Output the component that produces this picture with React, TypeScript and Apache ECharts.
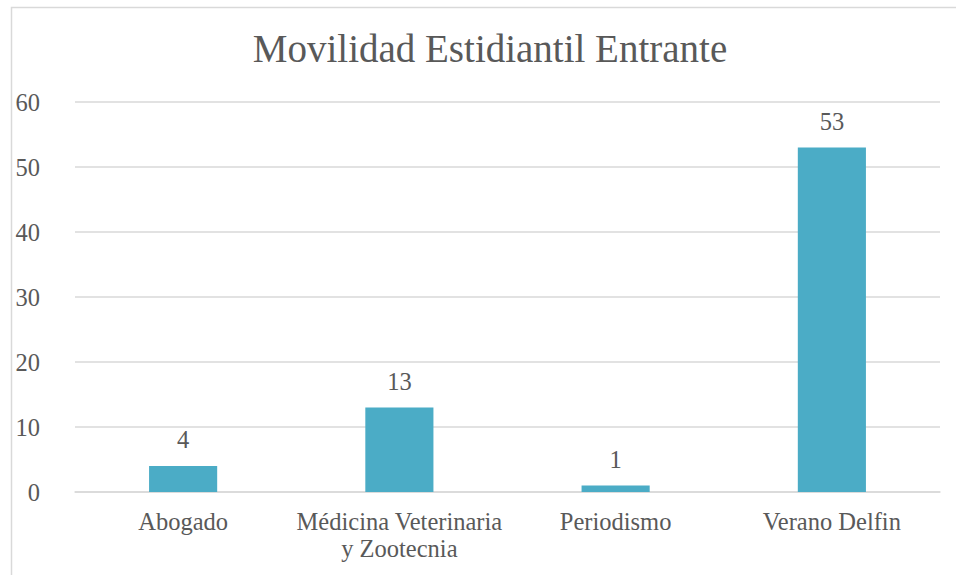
import React, { useEffect, useRef } from "react";
import * as echarts from "echarts";

const titleText = "Movilidad Estidiantil Entrante";
const categories = ["Abogado", "Médicina Veterinaria\ny Zootecnia", "Periodismo", "Verano Delfin"];
const values = [4, 13, 1, 53];
const yMin = 0;
const yMax = 60;
const yInterval = 10;

const FONT = "'Liberation Serif', 'DejaVu Serif', serif";
const TEXT = "#595959";
const GRID = "#d9d9d9";
const BAR = "#4bacc6";

export default function App() {
  const ref = useRef<HTMLDivElement>(null);
  useEffect(() => {
    if (!ref.current) return;
    const chart = echarts.init(ref.current, undefined, { renderer: "svg" });
    chart.setOption({
      animation: false,
      backgroundColor: "#ffffff",
      title: {
        text: titleText,
        left: 485,
        textAlign: "center",
        top: 24,
        textStyle: { fontFamily: FONT, fontSize: 39, fontWeight: "normal", color: TEXT },
      },
      graphic: [
        {
          type: "rect",
          left: 9,
          top: 5,
          shape: { width: 1000, height: 1000 },
          style: { fill: "none", stroke: GRID, lineWidth: 1.5 },
          silent: true,
        },
      ],
      grid: { left: 75, right: 16, top: 102, bottom: 83, containLabel: false },
      xAxis: {
        type: "category",
        data: categories,
        axisLine: { show: true, lineStyle: { color: GRID, width: 1.5 } },
        axisTick: { show: false },
        axisLabel: {
          fontFamily: FONT,
          fontSize: 24.5,
          color: TEXT,
          margin: 16,
          lineHeight: 27,
          interval: 0,
        },
      },
      yAxis: {
        type: "value",
        min: yMin,
        max: yMax,
        interval: yInterval,
        axisLine: { show: false },
        axisTick: { show: false },
        splitLine: { lineStyle: { color: GRID, width: 1.5 } },
        axisLabel: { fontFamily: FONT, fontSize: 24.5, color: TEXT, margin: 35 },
      },
      series: [
        {
          type: "bar",
          data: values,
          barWidth: "31.5%",
          itemStyle: { color: BAR },
          label: {
            show: true,
            position: "top",
            distance: 14,
            fontFamily: FONT,
            fontSize: 24.5,
            color: TEXT,
          },
        },
      ],
    });
    return () => chart.dispose();
  }, []);
  return (
    <div
      ref={ref}
      style={{ position: "absolute", left: 0, top: 0, width: 956, height: 575 }}
    />
  );
}
